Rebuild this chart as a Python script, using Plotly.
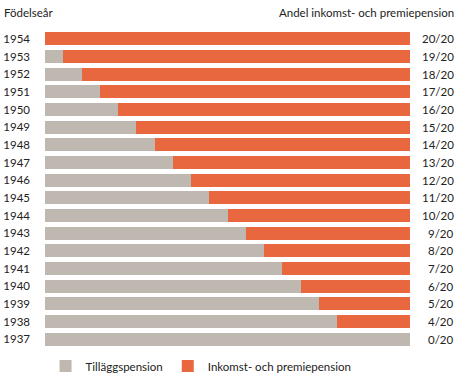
import plotly.graph_objects as go

years = ["1954", "1953", "1952", "1951", "1950", "1949", "1948", "1947", "1946",
         "1945", "1944", "1943", "1942", "1941", "1940", "1939", "1938", "1937"]
new_share = [20, 19, 18, 17, 16, 15, 14, 13, 12, 11, 10, 9, 8, 7, 6, 5, 4, 0]
old_share = [20 - v for v in new_share]
share_labels = [f"{v}/20" for v in new_share]

GREY = "#BFB8B0"
ORANGE = "#E8673F"
FONT = "Lato"
TXT = "#222"

pos = list(range(len(years)))

fig = go.Figure()
fig.add_trace(go.Bar(y=pos, x=old_share, orientation="h", name="Tilläggspension",
                     marker=dict(color=GREY, line=dict(width=0)), width=0.72))
fig.add_trace(go.Bar(y=pos, x=new_share, orientation="h", name="Inkomst- och premiepension",
                     marker=dict(color=ORANGE, line=dict(width=0)), width=0.72))

fig.update_layout(
    width=465, height=379,
    margin=dict(l=45, r=55, t=30, b=31, autoexpand=False),
    barmode="stack",
    plot_bgcolor="white", paper_bgcolor="white",
    font=dict(family=FONT, size=11.5, color=TXT),
    showlegend=True,
    legend=dict(orientation="h", xref="container", yref="container",
                x=0.098, xanchor="left", y=0.034, yanchor="middle",
                font=dict(family=FONT, size=11.5, color=TXT),
                traceorder="normal"),
    xaxis=dict(range=[0, 20], visible=False, fixedrange=True),
    yaxis=dict(range=[len(years) - 0.5, -0.5], tickmode="array", tickvals=pos, ticktext=years,
               showgrid=False, zeroline=False, showline=False, automargin=False, fixedrange=True,
               ticks="", ticklabelstandoff=14, tickfont=dict(family=FONT, size=11.5, color=TXT)),
)

for p, lab in zip(pos, share_labels):
    fig.add_annotation(x=1.1205, xref="paper", y=p, yref="y", text=lab, showarrow=False,
                       xanchor="right", xshift=2, font=dict(family=FONT, size=11.5, color=TXT))

fig.add_annotation(x=-0.1096, xref="paper", y=1.0, yref="paper", yshift=18, xshift=-3,
                   text="Födelseår", showarrow=False, xanchor="left", yanchor="middle",
                   font=dict(family=FONT, size=11.5, color=TXT))
fig.add_annotation(x=1.1205, xref="paper", y=1.0, yref="paper", yshift=18, xshift=2,
                   text="Andel inkomst- och premiepension",
                   showarrow=False, xanchor="right", yanchor="middle",
                   font=dict(family=FONT, size=11.5, color=TXT))

fig.write_html("out.html", config={"displayModeBar": False},
               post_script="document.body.style.margin='0';")
